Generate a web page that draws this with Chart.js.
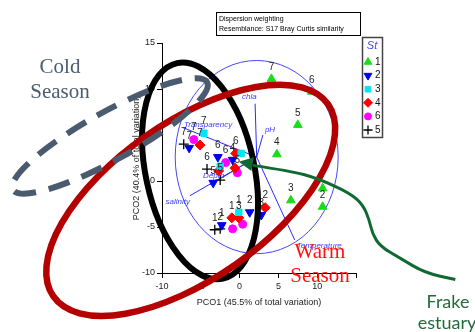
<!DOCTYPE html>
<html>
<head>
<meta charset="utf-8">
<script src="https://cdn.jsdelivr.net/npm/chart.js@4.4.1/dist/chart.umd.min.js"></script>
<style>
html, body { margin: 0; padding: 0; background: #fff; }
#wrap { width: 475px; height: 332px; position: relative; }
</style>
</head>
<body>
<div id="wrap"><canvas id="pcoChart"></canvas></div>
<script>
// PCO scores (PCO1, PCO2) per station, with the month number printed by each point
const stations = ['1', '2', '3', '4', '6', '5'];

const st1Pts = [[4.1, 11.1], [9.3, 9.7], [7.5, 6.1], [4.8, 2.9], [6.6, -2.1], [10.7, -0.8], [10.7, -2.8]];
const st1Lab = ['7', '6', '5', '4', '3', '', '2'];
const st2Pts = [[-6.5, 3.6], [-2.8, 2.6], [-0.9, 2.3], [-3.4, -0.2], [-2.3, -4.8], [1.3, -3.4], [2.8, -3.7]];
const st2Lab = ['7', '6', '4', '5', '1', '2', '3'];
const st3Pts = [[-4.6, 5.2], [0.2, 3.0], [-2.5, 1.6], [-0.1, -3.4]];
const st3Lab = ['7', '', '', '1'];
const st4Pts = [[-5.1, 3.9], [-0.5, 3.0], [-2.7, 1.1], [-0.6, 1.4], [-1.0, -4.0], [-0.1, -4.0], [3.3, -2.9]];
const st4Lab = ['7', '6', '', '', '1', '3', '2'];
const st6Pts = [[-5.9, 4.5], [-1.8, 2.0], [-0.3, 0.9], [-0.9, -5.2], [0.4, -4.7]];
const st6Lab = ['7', '6', '5', '', ''];
const st5Pts = [[-7.2, 4.0], [-4.2, 1.3], [-2.5, 0.1], [-3.2, -5.3], [-2.5, -5.2]];
const st5Lab = ['7', '6', '5', '1', '2'];

const allPts = [st1Pts, st2Pts, st3Pts, st4Pts, st6Pts, st5Pts];
const allLab = [st1Lab, st2Lab, st3Lab, st4Lab, st6Lab, st5Lab];

// environmental vectors overlay
const vecOrigin = [2.2, 2.6];
const vecNames = ['chla', 'pH', 'Transparency', 'Depth', 'salinity', 'Temperature'];
const vecEnds = [[2.0, 8.4], [3.0, 5.0], [-7.3, 5.8], [-3.8, -0.4], [-6.4, -1.6], [7.1, -6.4]];
const circleR = 10.5;

const axisTicks = [-10, -5, 0, 5, 10, 15];

// styles
const stColors = ['#18dd18', '#0000ee', '#00e6ee', '#ff0000', '#ff00ff', '#000000'];
const stShapes = ['triangle', 'triangle', 'rect', 'rectRot', 'circle', 'cross'];
const stRot = [0, 180, 0, 0, 0, 0];
const stRadius = [5, 5, 4.5, 5, 4, 5];
const vecLabelOff = [[-13, -7, 'left'], [2, -5, 'left'], [1, -3, 'left'], [-7, -9, 'left'], [0, 6, 'right'], [2, 6, 'left']];

// hand drawn groupings (centre in data units, semi axes in x units, tilt in degrees)
const blackCentre = [-5.1, 1.1], blackAxes = [7.0, 14.2], blackTilt = -12;
const redCentre = [-6.3, -2.1], redAxes = [21.6, 10.1], redTilt = -35;
const greyCentre = [-16.7, 4.9], greyAxes = [14.3, 3.1], greyTilt = -29;
const estuaryPath = [[-0.1, 2.1], [1.7, 1.7], [6.5, 1.1], [10.0, 0.3], [14.2, -1.3], [15.9, -2.6],
  [16.7, -4.2], [17.1, -5.7], [18.1, -7.1], [20.7, -8.4], [23.9, -10.0], [27.8, -10.7]];

const sans = '"Liberation Sans", Arial, sans-serif';

function drawEllipse(ctx, xs, ys, c, ax, tilt) {
    const u = Math.abs(xs.getPixelForValue(1) - xs.getPixelForValue(0));
    ctx.beginPath();
    ctx.ellipse(xs.getPixelForValue(c[0]), ys.getPixelForValue(c[1]), ax[0] * u, ax[1] * u, tilt * Math.PI / 180, 0, Math.PI * 2);
    ctx.stroke();
}

function drawSymbol(ctx, i, x, y) {
    ctx.fillStyle = stColors[i];
    ctx.strokeStyle = stColors[i];
    ctx.lineWidth = i === 5 ? 1.3 : 1;
    Chart.helpers.drawPoint(ctx, {pointStyle: stShapes[i], radius: stRadius[i] - 0.5, rotation: stRot[i], borderWidth: ctx.lineWidth}, x, y);
}

const overlay = {
    id: 'overlay',
    beforeDatasetsDraw(chart) {
        const ctx = chart.ctx, xs = chart.scales.x, ys = chart.scales.y;
        const ox = xs.getPixelForValue(vecOrigin[0]), oy = ys.getPixelForValue(vecOrigin[1]);
        const rx = Math.abs(xs.getPixelForValue(circleR) - xs.getPixelForValue(0));
        const ry = Math.abs(ys.getPixelForValue(circleR) - ys.getPixelForValue(0));
        ctx.save();
        ctx.strokeStyle = '#4646ff';
        ctx.lineWidth = 1;
        ctx.beginPath();
        ctx.ellipse(ox, oy, rx, ry, 0, 0, Math.PI * 2);
        ctx.stroke();
        ctx.strokeStyle = '#2a2aff';
        ctx.fillStyle = '#3a3aff';
        ctx.font = 'italic 8px ' + sans;
        ctx.textBaseline = 'middle';
        vecEnds.forEach((e, i) => {
            const ex = xs.getPixelForValue(e[0]), ey = ys.getPixelForValue(e[1]);
            ctx.beginPath();
            ctx.moveTo(ox, oy);
            ctx.lineTo(ex, ey);
            ctx.stroke();
            ctx.textAlign = vecLabelOff[i][2];
            ctx.fillText(vecNames[i], ex + vecLabelOff[i][0], ey + vecLabelOff[i][1]);
        });
        ctx.restore();
    },
    afterDatasetsDraw(chart) {
        const ctx = chart.ctx;
        ctx.save();
        ctx.fillStyle = '#222';
        ctx.font = '10px ' + sans;
        ctx.textAlign = 'center';
        ctx.textBaseline = 'middle';
        chart.data.datasets.forEach((ds, i) => {
            chart.getDatasetMeta(i).data.forEach((pt, j) => {
                ctx.fillText(allLab[i][j], pt.x, pt.y - 12);
            });
        });
        ctx.restore();
    },
    afterDraw(chart) {
        const ctx = chart.ctx, xs = chart.scales.x, ys = chart.scales.y;
        ctx.save();

        // info box
        ctx.strokeStyle = '#000';
        ctx.lineWidth = 1;
        ctx.strokeRect(216.5, 12.5, 144, 23);
        ctx.fillStyle = '#000';
        ctx.font = '7px ' + sans;
        ctx.textAlign = 'left';
        ctx.textBaseline = 'alphabetic';
        ctx.fillText('Dispersion weighting', 219, 21);
        ctx.fillText('Resemblance: S17 Bray Curtis similarity', 219, 31);

        // legend
        ctx.strokeStyle = '#444';
        ctx.lineWidth = 1.5;
        ctx.strokeRect(362.5, 37.5, 20, 100);
        ctx.fillStyle = '#4a4aee';
        ctx.font = 'italic 11px ' + sans;
        ctx.textAlign = 'center';
        ctx.textBaseline = 'middle';
        ctx.fillText('St', 372, 46);
        ctx.font = '10px ' + sans;
        stations.forEach((s, i) => {
            const y = 62 + i * 13.6;
            drawSymbol(ctx, i, 368, y);
            ctx.fillStyle = '#111';
            ctx.textAlign = 'left';
            ctx.fillText(s, 375, y);
        });

        // groupings
        ctx.lineWidth = 6;
        ctx.strokeStyle = '#000';
        drawEllipse(ctx, xs, ys, blackCentre, blackAxes, blackTilt);
        ctx.lineWidth = 6.5;
        ctx.strokeStyle = '#b40000';
        drawEllipse(ctx, xs, ys, redCentre, redAxes, redTilt);
        ctx.lineWidth = 6;
        ctx.strokeStyle = '#4b5b6f';
        ctx.setLineDash([22, 13]);
        drawEllipse(ctx, xs, ys, greyCentre, greyAxes, greyTilt);
        ctx.setLineDash([]);

        // estuary arrow
        const p = estuaryPath.map(q => [xs.getPixelForValue(q[0]), ys.getPixelForValue(q[1])]);
        ctx.strokeStyle = '#0f6a32';
        ctx.fillStyle = '#0f6a32';
        ctx.lineWidth = 3;
        ctx.beginPath();
        ctx.moveTo(p[1][0], p[1][1]);
        for (let i = 2; i < p.length - 1; i++) {
            const mx = (p[i][0] + p[i + 1][0]) / 2, my = (p[i][1] + p[i + 1][1]) / 2;
            ctx.quadraticCurveTo(p[i][0], p[i][1], mx, my);
        }
        ctx.lineTo(p[p.length - 1][0], p[p.length - 1][1]);
        ctx.stroke();
        const ang = Math.atan2(p[0][1] - p[2][1], p[0][0] - p[2][0]);
        ctx.beginPath();
        ctx.moveTo(p[0][0], p[0][1]);
        ctx.lineTo(p[0][0] - 14 * Math.cos(ang) + 7 * Math.sin(ang), p[0][1] - 14 * Math.sin(ang) - 7 * Math.cos(ang));
        ctx.lineTo(p[0][0] - 14 * Math.cos(ang) - 7 * Math.sin(ang), p[0][1] - 14 * Math.sin(ang) + 7 * Math.cos(ang));
        ctx.closePath();
        ctx.fill();

        // season / estuary captions
        ctx.textAlign = 'center';
        ctx.textBaseline = 'alphabetic';
        ctx.font = '21px "Liberation Serif", "Times New Roman", serif';
        ctx.fillStyle = '#4b5b70';
        ctx.fillText('Cold', 60, 73);
        ctx.fillText('Season', 60, 98);
        ctx.fillStyle = '#ff1010';
        ctx.fillText('Warm', 320, 258);
        ctx.fillText('Season', 320, 282);
        ctx.font = '18px Lato, "Open Sans", sans-serif';
        ctx.fillStyle = '#236b3a';
        ctx.fillText('Frake', 448, 308);
        ctx.fillText('estuary', 447, 329);
        ctx.restore();
    }
};

new Chart(document.getElementById('pcoChart'), {
    type: 'scatter',
    data: {
        datasets: stations.map((s, i) => ({
            label: s,
            data: allPts[i].map(q => ({x: q[0], y: q[1]})),
            pointStyle: stShapes[i],
            rotation: stRot[i],
            pointRadius: stRadius[i],
            backgroundColor: stColors[i],
            borderColor: stColors[i],
            borderWidth: i === 5 ? 1.3 : 1,
            clip: false
        }))
    },
    options: {
        responsive: true,
        maintainAspectRatio: false,
        animation: false,
        layout: {padding: {left: 128, right: 119, top: 43, bottom: 20}},
        scales: {
            x: {
                type: 'linear',
                min: axisTicks[0],
                max: axisTicks[axisTicks.length - 1],
                afterBuildTicks: s => { s.ticks = axisTicks.map(v => ({value: v})); },
                afterFit: s => { s.height = 39; },
                ticks: {
                    font: {size: 9, family: sans},
                    color: '#222',
                    padding: 3,
                    maxRotation: 0,
                    callback: v => v === 15 ? '' : v
                },
                grid: {drawOnChartArea: false, color: '#000', tickLength: 5},
                border: {color: '#000'},
                title: {
                    display: true,
                    text: 'PCO1 (45.5% of total variation)',
                    font: {size: 9, family: sans},
                    color: '#222',
                    padding: {top: 0, bottom: 4}
                }
            },
            y: {
                type: 'linear',
                min: axisTicks[0],
                max: axisTicks[axisTicks.length - 1],
                afterBuildTicks: s => { s.ticks = axisTicks.map(v => ({value: v})); },
                afterFit: s => { s.width = 34; },
                ticks: {
                    font: {size: 9, family: sans},
                    color: '#222',
                    padding: 2
                },
                grid: {drawOnChartArea: false, color: '#000', tickLength: 5},
                border: {color: '#000'},
                title: {
                    display: true,
                    text: 'PCO2 (40.4% of total variation)',
                    font: {size: 9, family: sans},
                    color: '#222',
                    padding: {top: 3, bottom: 0}
                }
            }
        },
        plugins: {
            legend: {display: false},
            tooltip: {enabled: false}
        }
    },
    plugins: [overlay]
});
</script>
</body>
</html>
